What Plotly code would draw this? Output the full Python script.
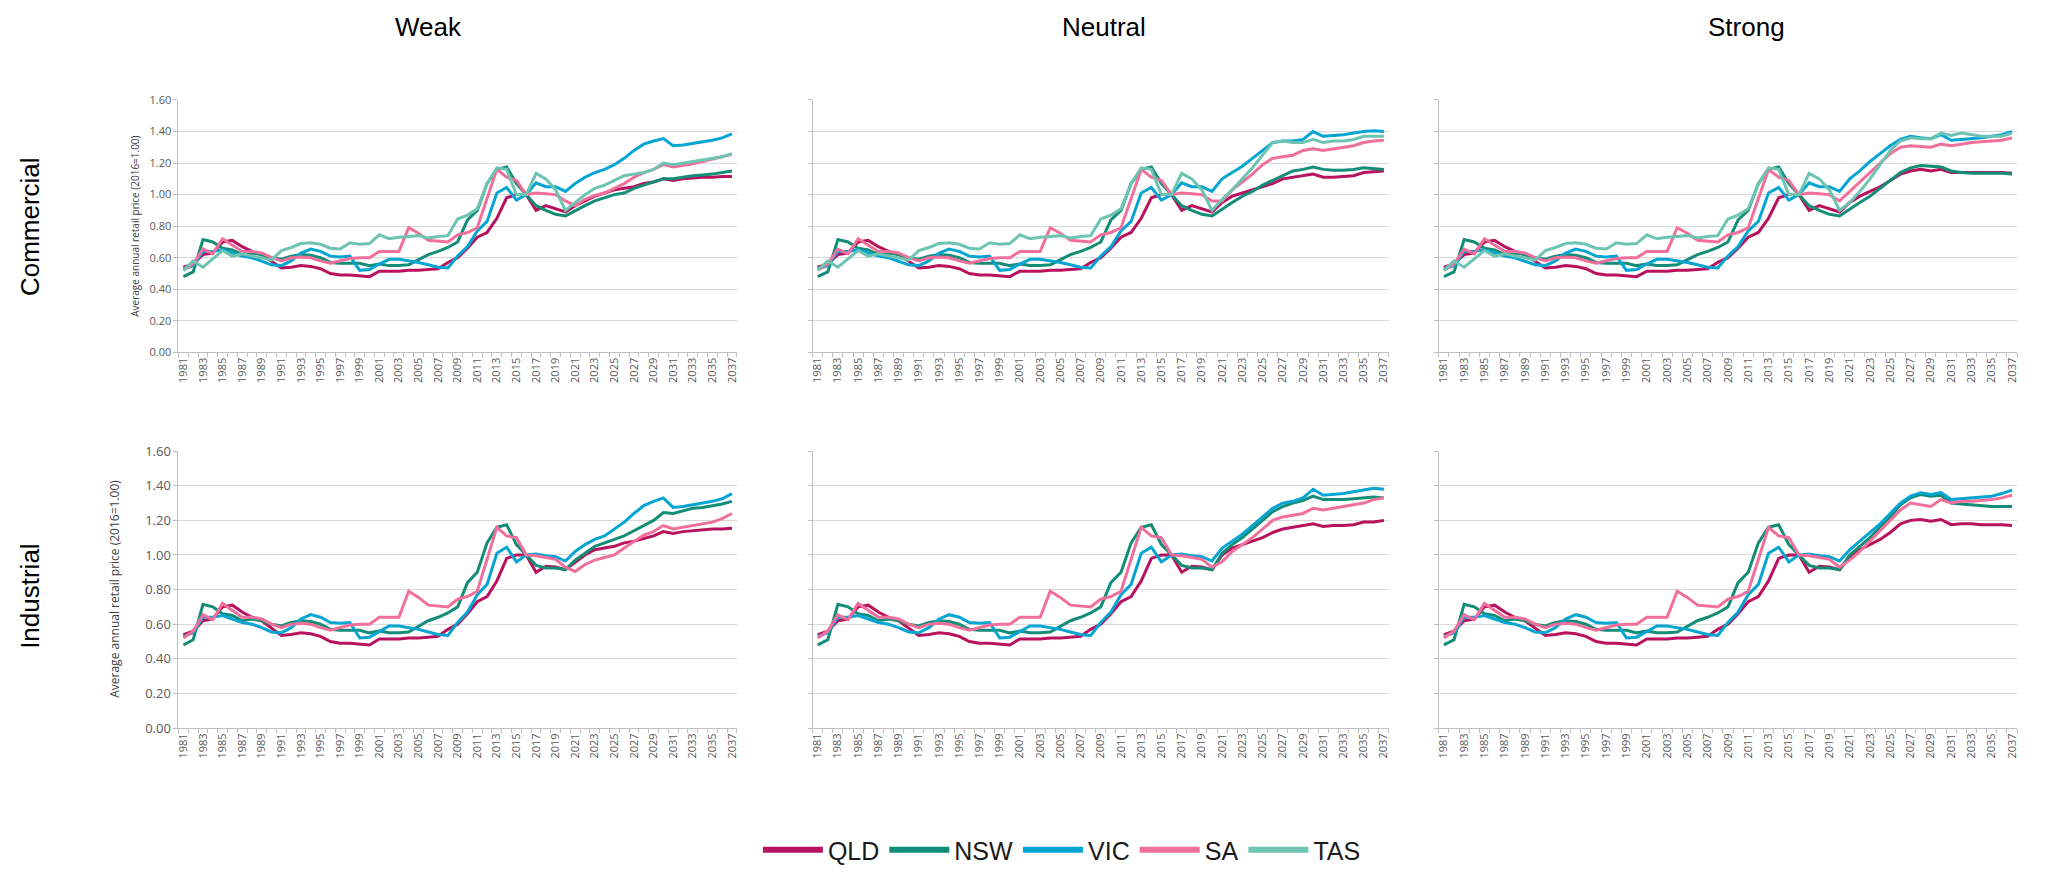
import plotly.graph_objects as go

# ---------------------------------------------------------------------------
# Data: average annual retail electricity price index (2016 = 1.00)
# ---------------------------------------------------------------------------
YEARS = list(range(1981, 2038))
STATES = ["QLD", "NSW", "VIC", "SA", "TAS"]
SCENARIOS = ["Weak", "Neutral", "Strong"]
SECTORS = ["Commercial", "Industrial"]
Y_TICKS = [0.0, 0.2, 0.4, 0.6, 0.8, 1.0, 1.2, 1.4, 1.6]
X_TICKS = YEARS[::2]

COLORS = {
    "QLD": "#b8125e",
    "NSW": "#138c78",
    "VIC": "#05a5d3",
    "SA": "#f0709b",
    "TAS": "#6ec4b3",
}

# Shared history 1981-2014
QLD_HIST = [0.54, 0.56, 0.62, 0.63, 0.70, 0.71, 0.67, 0.64, 0.62, 0.58,
            0.535, 0.54, 0.55, 0.545, 0.53, 0.50, 0.49, 0.49, 0.485, 0.48,
            0.515, 0.515, 0.515, 0.52, 0.52, 0.525, 0.53, 0.57, 0.60, 0.66,
            0.73, 0.76, 0.85, 0.98]
NSW_HIST = [0.48, 0.51, 0.715, 0.70, 0.66, 0.65, 0.62, 0.63, 0.62, 0.60,
            0.59, 0.61, 0.62, 0.615, 0.60, 0.57, 0.565, 0.565, 0.565, 0.55,
            0.56, 0.55, 0.55, 0.555, 0.59, 0.62, 0.64, 0.665, 0.70, 0.84,
            0.90, 1.07, 1.16, 1.175]
VIC_HIST = [0.53, 0.55, 0.64, 0.64, 0.65, 0.63, 0.61, 0.60, 0.58, 0.555,
            0.55, 0.58, 0.63, 0.655, 0.64, 0.61, 0.605, 0.61, 0.52, 0.525,
            0.56, 0.59, 0.59, 0.58, 0.57, 0.555, 0.54, 0.535, 0.61, 0.67,
            0.77, 0.83, 1.01, 1.045]
SA_HIST = [0.52, 0.56, 0.655, 0.625, 0.72, 0.68, 0.64, 0.64, 0.63, 0.60,
           0.58, 0.60, 0.605, 0.60, 0.58, 0.565, 0.58, 0.595, 0.60, 0.60,
           0.64, 0.64, 0.64, 0.79, 0.755, 0.71, 0.705, 0.70, 0.745, 0.76,
           0.79, 0.97, 1.16, 1.11]
TAS_HIST = [0.52, 0.58, 0.54, 0.59, 0.645, 0.61, 0.625, 0.61, 0.60, 0.585,
            0.645, 0.665, 0.69, 0.695, 0.685, 0.66, 0.655, 0.695, 0.685, 0.69,
            0.745, 0.72, 0.73, 0.735, 0.74, 0.725, 0.735, 0.74, 0.845, 0.87,
            0.91, 1.07, 1.17, 1.16]

# Recent years 2015-2020
COM_QLD_RECENT = [1.00, 1.00, 0.90, 0.93, 0.91, 0.89]
COM_NSW_RECENT = [1.07, 1.00, 0.93, 0.90, 0.875, 0.865]
COM_VIC_RECENT = [0.965, 1.00, 1.075, 1.05, 1.05, 1.02]
COM_SA_RECENT = [1.09, 1.00, 1.01, 1.005, 1.00, 0.96]
COM_TAS_RECENT = [1.00, 1.00, 1.135, 1.10, 1.03, 0.90]

IND_QLD_RECENT = [1.00, 1.00, 0.90, 0.935, 0.93, 0.915]
IND_NSW_RECENT = [1.06, 1.00, 0.94, 0.925, 0.925, 0.915]
IND_VIC_RECENT = [0.96, 1.00, 1.005, 0.995, 0.99, 0.965]
IND_SA_RECENT = [1.10, 1.00, 0.995, 0.985, 0.975, 0.93]

# Projections 2021-2037, commercial
COM_WEAK_QLD = [0.93, 0.96, 0.99, 1.01, 1.03, 1.04, 1.05, 1.07, 1.08, 1.10,
                1.09, 1.10, 1.105, 1.11, 1.11, 1.115, 1.115]
COM_WEAK_NSW = [0.90, 0.93, 0.96, 0.98, 1.00, 1.01, 1.04, 1.06, 1.08, 1.10,
                1.10, 1.11, 1.12, 1.125, 1.13, 1.14, 1.15]
COM_WEAK_VIC = [1.07, 1.11, 1.14, 1.16, 1.19, 1.23, 1.28, 1.32, 1.34, 1.355,
                1.31, 1.315, 1.325, 1.335, 1.345, 1.36, 1.385]
COM_WEAK_SA = [0.93, 0.97, 0.995, 1.01, 1.04, 1.07, 1.11, 1.14, 1.16, 1.19,
               1.175, 1.185, 1.195, 1.21, 1.225, 1.24, 1.255]
COM_WEAK_TAS = [0.95, 1.00, 1.04, 1.06, 1.09, 1.12, 1.13, 1.14, 1.16, 1.20,
                1.19, 1.20, 1.21, 1.22, 1.23, 1.24, 1.26]

COM_NEUTRAL_QLD = [0.95, 0.99, 1.01, 1.03, 1.05, 1.07, 1.10, 1.11, 1.12, 1.13,
                   1.11, 1.11, 1.115, 1.12, 1.14, 1.145, 1.15]
COM_NEUTRAL_NSW = [0.91, 0.95, 0.99, 1.02, 1.06, 1.09, 1.12, 1.15, 1.16, 1.175,
                   1.16, 1.155, 1.155, 1.16, 1.17, 1.165, 1.16]
COM_NEUTRAL_VIC = [1.10, 1.14, 1.18, 1.23, 1.28, 1.33, 1.34, 1.34, 1.35, 1.40,
                   1.37, 1.375, 1.38, 1.39, 1.40, 1.405, 1.40]
COM_NEUTRAL_SA = [0.96, 1.03, 1.08, 1.13, 1.19, 1.23, 1.24, 1.25, 1.28, 1.29,
                  1.28, 1.29, 1.30, 1.31, 1.33, 1.34, 1.345]
COM_NEUTRAL_TAS = [0.97, 1.03, 1.10, 1.17, 1.25, 1.33, 1.34, 1.33, 1.33, 1.35,
                   1.33, 1.34, 1.34, 1.35, 1.37, 1.37, 1.37]

COM_STRONG_QLD = [0.95, 0.99, 1.02, 1.05, 1.09, 1.13, 1.15, 1.16, 1.15, 1.16,
                  1.14, 1.14, 1.14, 1.14, 1.14, 1.14, 1.135]
COM_STRONG_NSW = [0.91, 0.95, 0.99, 1.04, 1.09, 1.14, 1.17, 1.185, 1.18, 1.175,
                  1.15, 1.14, 1.135, 1.135, 1.135, 1.135, 1.13]
COM_STRONG_VIC = [1.10, 1.15, 1.21, 1.26, 1.31, 1.35, 1.37, 1.36, 1.355, 1.38,
                  1.345, 1.35, 1.355, 1.36, 1.37, 1.38, 1.40]
COM_STRONG_SA = [1.02, 1.08, 1.14, 1.20, 1.26, 1.30, 1.31, 1.305, 1.30, 1.32,
                 1.31, 1.32, 1.33, 1.335, 1.34, 1.345, 1.36]
COM_STRONG_TAS = [0.95, 1.02, 1.10, 1.19, 1.28, 1.34, 1.36, 1.355, 1.355, 1.39,
                  1.375, 1.39, 1.38, 1.37, 1.37, 1.37, 1.39]

# Projections 2021-2037, industrial
IND_WEAK_QLD = [0.96, 1.00, 1.03, 1.04, 1.05, 1.07, 1.08, 1.095, 1.11, 1.135,
                1.125, 1.135, 1.14, 1.145, 1.15, 1.15, 1.155]
IND_WEAK_NSW = [0.97, 1.01, 1.05, 1.07, 1.09, 1.11, 1.14, 1.17, 1.20, 1.245,
                1.24, 1.255, 1.27, 1.275, 1.285, 1.295, 1.31]
IND_WEAK_VIC = [1.02, 1.06, 1.09, 1.11, 1.15, 1.19, 1.24, 1.285, 1.31, 1.33,
                1.275, 1.28, 1.29, 1.30, 1.31, 1.325, 1.355]
IND_WEAK_SA = [0.905, 0.945, 0.97, 0.985, 1.00, 1.04, 1.08, 1.115, 1.135, 1.17,
               1.15, 1.16, 1.17, 1.18, 1.19, 1.21, 1.24]

IND_NEUTRAL_QLD = [1.00, 1.04, 1.06, 1.08, 1.10, 1.13, 1.15, 1.16, 1.17, 1.18,
                   1.165, 1.17, 1.17, 1.175, 1.19, 1.19, 1.20]
IND_NEUTRAL_NSW = [1.01, 1.06, 1.10, 1.15, 1.20, 1.25, 1.28, 1.30, 1.315, 1.34,
                   1.32, 1.32, 1.32, 1.325, 1.33, 1.335, 1.33]
IND_NEUTRAL_VIC = [1.04, 1.08, 1.12, 1.17, 1.22, 1.27, 1.30, 1.31, 1.33, 1.38,
                   1.345, 1.35, 1.355, 1.365, 1.375, 1.385, 1.38]
IND_NEUTRAL_SA = [0.96, 1.02, 1.06, 1.10, 1.15, 1.20, 1.22, 1.23, 1.24, 1.27,
                  1.26, 1.27, 1.28, 1.29, 1.30, 1.32, 1.33]

IND_STRONG_QLD = [0.99, 1.03, 1.06, 1.09, 1.13, 1.18, 1.20, 1.205, 1.195, 1.205,
                  1.175, 1.18, 1.18, 1.175, 1.175, 1.175, 1.17]
IND_STRONG_NSW = [1.00, 1.05, 1.10, 1.16, 1.22, 1.29, 1.33, 1.35, 1.34, 1.345,
                  1.30, 1.295, 1.29, 1.285, 1.28, 1.28, 1.28]
IND_STRONG_VIC = [1.03, 1.08, 1.13, 1.18, 1.24, 1.30, 1.34, 1.36, 1.35, 1.36,
                  1.32, 1.325, 1.33, 1.335, 1.34, 1.355, 1.375]
IND_STRONG_SA = [0.97, 1.02, 1.08, 1.14, 1.20, 1.26, 1.30, 1.29, 1.28, 1.32,
                 1.30, 1.31, 1.31, 1.315, 1.32, 1.33, 1.345]

HIST = {"QLD": QLD_HIST, "NSW": NSW_HIST, "VIC": VIC_HIST, "SA": SA_HIST, "TAS": TAS_HIST}
RECENT = {
    "Commercial": {"QLD": COM_QLD_RECENT, "NSW": COM_NSW_RECENT, "VIC": COM_VIC_RECENT,
                   "SA": COM_SA_RECENT, "TAS": COM_TAS_RECENT},
    "Industrial": {"QLD": IND_QLD_RECENT, "NSW": IND_NSW_RECENT, "VIC": IND_VIC_RECENT,
                   "SA": IND_SA_RECENT},
}
PROJ = {
    ("Commercial", "Weak"): {"QLD": COM_WEAK_QLD, "NSW": COM_WEAK_NSW, "VIC": COM_WEAK_VIC,
                             "SA": COM_WEAK_SA, "TAS": COM_WEAK_TAS},
    ("Commercial", "Neutral"): {"QLD": COM_NEUTRAL_QLD, "NSW": COM_NEUTRAL_NSW, "VIC": COM_NEUTRAL_VIC,
                                "SA": COM_NEUTRAL_SA, "TAS": COM_NEUTRAL_TAS},
    ("Commercial", "Strong"): {"QLD": COM_STRONG_QLD, "NSW": COM_STRONG_NSW, "VIC": COM_STRONG_VIC,
                               "SA": COM_STRONG_SA, "TAS": COM_STRONG_TAS},
    ("Industrial", "Weak"): {"QLD": IND_WEAK_QLD, "NSW": IND_WEAK_NSW, "VIC": IND_WEAK_VIC,
                             "SA": IND_WEAK_SA},
    ("Industrial", "Neutral"): {"QLD": IND_NEUTRAL_QLD, "NSW": IND_NEUTRAL_NSW, "VIC": IND_NEUTRAL_VIC,
                                "SA": IND_NEUTRAL_SA},
    ("Industrial", "Strong"): {"QLD": IND_STRONG_QLD, "NSW": IND_STRONG_NSW, "VIC": IND_STRONG_VIC,
                               "SA": IND_STRONG_SA},
}

# ---------------------------------------------------------------------------
# Layout geometry (paper fractions)
# ---------------------------------------------------------------------------
W, H = 2053, 873
X_DOMAINS = [[175 / W, 735 / W], [811 / W, 1389 / W], [1439 / W, 2019 / W]]
Y_DOMAINS = [[1 - 351 / H, 1 - 93 / H], [1 - 735 / H, 1 - 452 / H]]

GRID = "#d9d9d9"
AXIS = "#bfbfbf"
TICK_TXT = "#595959"
TICK_FONT = "Open Sans, Liberation Sans, sans-serif"
LABEL_FONT = "Liberation Sans, Arial, sans-serif"

fig = go.Figure()
layout = {}

for r, sector in enumerate(SECTORS):
    for c, scen in enumerate(SCENARIOS):
        k = r * 3 + c + 1
        xa, ya = f"x{k}", f"y{k}"
        series = PROJ[(sector, scen)]
        for st in STATES:
            if st not in series:
                continue
            values = HIST[st] + RECENT[sector][st] + series[st]
            fig.add_trace(go.Scatter(
                x=YEARS, y=values, mode="lines", name=st, legendgroup=st,
                line=dict(color=COLORS[st], width=3),
                xaxis=xa, yaxis=ya, showlegend=False,
                hovertemplate=f"{st} %{{x}}: %{{y:.2f}}<extra></extra>",
            ))
        xkey = "xaxis" if k == 1 else f"xaxis{k}"
        ykey = "yaxis" if k == 1 else f"yaxis{k}"
        layout[xkey] = dict(
            domain=X_DOMAINS[c], anchor=ya, range=[1980.5, 2037.5],
            tickmode="array", tickvals=X_TICKS, ticktext=[str(v) for v in X_TICKS],
            tickangle=-90, ticks="", showline=True, linecolor=AXIS, linewidth=1,
            showgrid=False, zeroline=False,
            tickfont=dict(family=TICK_FONT, size=11, color=TICK_TXT),
            minor=dict(tickmode="array", tickvals=[v - 0.5 for v in YEARS] + [2037.5],
                       ticks="outside", ticklen=4, tickcolor=AXIS, showgrid=False),
        )
        layout[ykey] = dict(
            domain=Y_DOMAINS[r], anchor=xa, range=[0, 1.6],
            tickmode="array", tickvals=Y_TICKS, tickformat=".2f",
            showticklabels=(c == 0), showgrid=True, gridcolor=GRID, gridwidth=1,
            showline=True, linecolor=AXIS, linewidth=1, zeroline=False,
            ticks="outside", ticklen=4, tickcolor=AXIS,
            tickfont=dict(family=TICK_FONT, size=11 if r == 0 else 13, color=TICK_TXT),
        )

# Legend entries (one per state)
for st in STATES:
    fig.add_trace(go.Scatter(
        x=[None], y=[None], mode="lines", name=st, legendgroup=st,
        line=dict(color=COLORS[st], width=6), showlegend=True, hoverinfo="skip",
    ))

annotations = []
for x_px, scen in zip([426, 1103, 1748], SCENARIOS):
    annotations.append(dict(
        text=scen, x=x_px / W, y=1 - 18 / H, xref="paper", yref="paper",
        xanchor="center", yanchor="middle", showarrow=False,
        font=dict(family=LABEL_FONT, size=26, color="#000000"),
    ))
for y_px, sector in zip([222, 600], SECTORS):
    annotations.append(dict(
        text=sector, x=26 / W, y=1 - y_px / H, xref="paper", yref="paper",
        xanchor="center", yanchor="middle", showarrow=False, textangle=-90,
        font=dict(family=LABEL_FONT, size=26, color="#000000"),
    ))
for x_px, y_px, size in [(132, 222, 10), (110, 593, 12)]:
    annotations.append(dict(
        text="Average annual retail price (2016=1.00)",
        x=x_px / W, y=1 - y_px / H, xref="paper", yref="paper",
        xanchor="center", yanchor="middle", showarrow=False, textangle=-90,
        font=dict(family=TICK_FONT, size=size, color="#404040"),
    ))

fig.update_layout(
    width=W, height=H,
    margin=dict(l=0, r=0, t=0, b=0),
    paper_bgcolor="#ffffff", plot_bgcolor="#ffffff",
    showlegend=True,
    legend=dict(
        orientation="h", x=1061 / W, xanchor="center", y=1 - 860 / H, yanchor="middle",
        font=dict(family=LABEL_FONT, size=25, color="#1a1a1a"),
        bgcolor="rgba(0,0,0,0)", itemwidth=60,
    ),
    annotations=annotations,
    **layout,
)

fig.write_html("out.html")
